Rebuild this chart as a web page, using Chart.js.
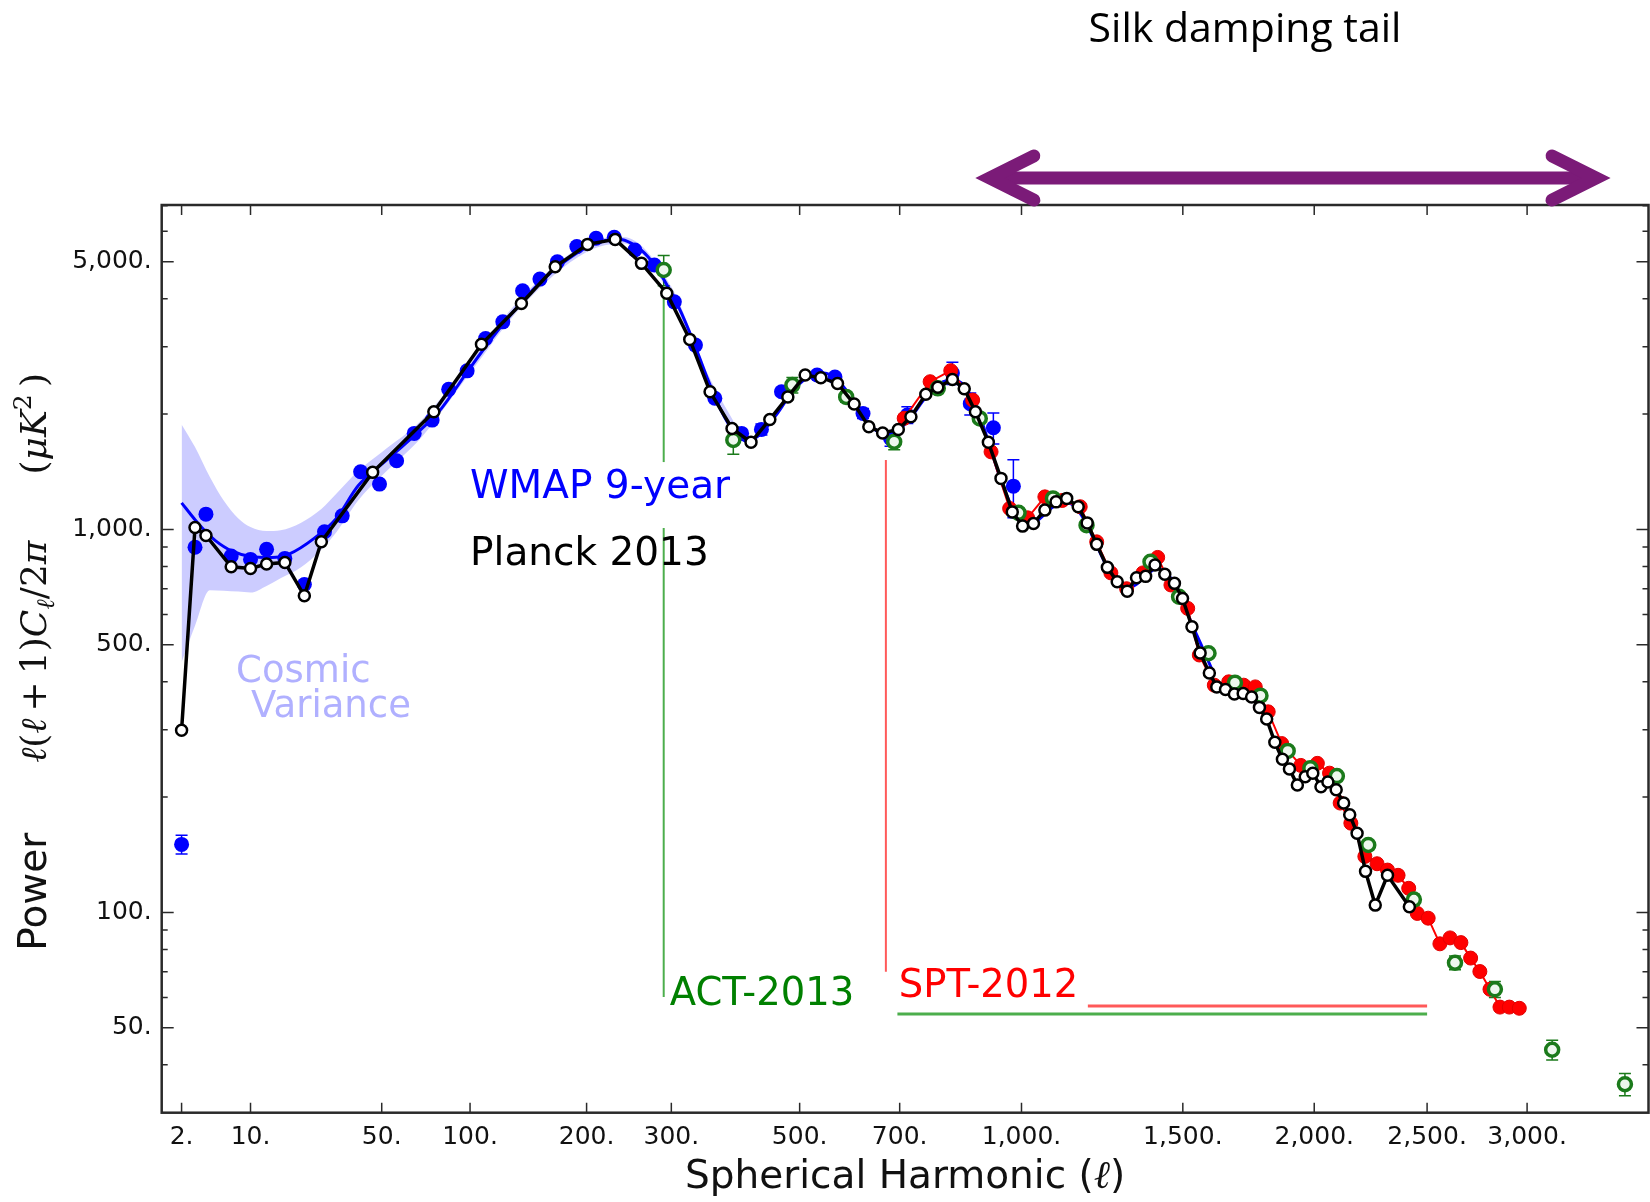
<!doctype html>
<html lang="en">
<head>
<meta charset="utf-8">
<title>CMB power spectrum</title>
<script src="https://cdn.jsdelivr.net/npm/chart.js@4.4.1/dist/chart.umd.min.js"></script>
<style>
  html, body { margin: 0; padding: 0; background: #fff; overflow: hidden; }
  #cmb { display: block; }
</style>
</head>
<body>
<canvas id="cmb" width="1650" height="1202"></canvas>
<script>
// axis ticks
const xTicks = [2, 10, 50, 100, 200, 300, 500, 700, 1000, 1500, 2000, 2500, 3000]
const yTicks = [50, 100, 500, 1000, 5000]
const yMinor = [40, 60, 70, 80, 90, 200, 300, 400, 600, 700, 800, 900, 2000, 3000, 4000, 6000, 7000]

// Planck 2013 (white circles, black line)
const planckL = [2, 3, 4, 7, 10, 13, 17, 22, 27, 46, 77, 108, 139, 169, 201, 231, 262, 294, 325, 354,
  387, 417, 448, 479, 510, 539, 571, 604, 634, 663, 697, 725, 759, 787, 822, 851, 879, 912, 945, 975,
  1003, 1033, 1065, 1097, 1128, 1162, 1189, 1218, 1251, 1282, 1314, 1344, 1374, 1405, 1438, 1471, 1499, 1532, 1561, 1594,
  1621, 1653, 1686, 1719, 1751, 1781, 1809, 1841, 1871, 1899, 1931, 1963, 1994, 2028, 2057, 2092, 2124, 2150, 2182, 2219,
  2262, 2317, 2417]
const planckP = [299, 1012, 964, 799, 791, 812, 820, 671, 928, 1409, 2028, 3042, 3889, 4847, 5548, 5717, 4950, 4136, 3134, 2287,
  1835, 1688, 1937, 2218, 2529, 2489, 2405, 2124, 1854, 1786, 1824, 1968, 2253, 2349, 2463, 2328, 2028, 1688, 1359, 1111,
  1020, 1036, 1123, 1180, 1205, 1146, 1040, 914, 796, 730, 690, 748, 754, 807, 764, 723, 660, 557, 476, 422,
  388, 382, 372, 373, 365, 343, 320, 278, 251, 237, 215, 226, 231, 213, 219, 209, 193, 180, 161, 128,
  104.5, 125, 103.5]

// WMAP 9-year binned points
const wmapL = [2, 3, 4, 7, 10, 13, 17, 22, 28, 34, 41, 49, 57, 66, 76, 86, 98, 111, 124, 140,
  155, 171, 190, 210, 230, 254, 278, 304, 333, 361, 402, 434, 468, 532, 566, 622, 680, 717, 822, 866,
  925, 978]
const wmapP = [150.5, 898, 1096, 852, 835, 887, 840, 718, 986, 1085, 1414, 1313, 1511, 1781, 1929, 2321, 2594, 3151, 3482, 4197,
  4503, 4995, 5474, 5755, 5788, 5365, 4900, 3927, 3028, 2200, 1781, 1824, 2287, 2529, 2500, 2008, 1728, 1990, 2560, 2130,
  1842, 1297]
const wmapErr = [8.5, 0, 0, 0, 0, 0, 0, 0, 0, 0, 0, 0, 0, 0, 0, 0, 0, 0, 0, 0,
  0, 0, 0, 0, 0, 0, 0, 0, 0, 0, 0, 60, 50, 50, 50, 60, 80, 100, 170, 140,
  170, 224]

// WMAP best fit model and cosmic variance band
const modelL = [2, 3, 4, 5, 7, 10, 14, 18, 25, 32, 40, 50, 60, 70, 80, 100, 120, 140, 160, 180,
  200, 220, 235, 250, 270, 290, 310, 330, 350, 370, 390, 410, 430, 460, 490, 520, 545, 570, 600, 630,
  660, 690, 720, 760, 800, 830, 860, 890, 920, 950, 980, 1010, 1040, 1080, 1120, 1150, 1180, 1210, 1250, 1290,
  1330, 1370, 1410, 1450, 1490, 1530, 1570, 1610]
const modelP = [1173, 1060, 985, 935, 880, 850, 845, 862, 950, 1070, 1300, 1480, 1650, 1830, 2030, 2640, 3300, 3950, 4550, 5050,
  5450, 5680, 5720, 5580, 5150, 4500, 3800, 3100, 2480, 2050, 1800, 1700, 1760, 2000, 2320, 2520, 2560, 2460, 2200, 1920,
  1790, 1800, 1930, 2220, 2430, 2450, 2300, 1980, 1600, 1300, 1120, 1040, 1050, 1130, 1180, 1150, 1060, 940, 800, 720,
  710, 750, 790, 760, 680, 570, 490, 420]
const bandL = [2, 3, 4.4, 6, 8, 10, 13, 16, 21, 27, 32, 40, 50, 70, 100, 140, 200, 240, 300, 350, 400]
const bandHi = [1880, 1640, 1370, 1190, 1070, 1015, 990, 995, 1040, 1130, 1240, 1420, 1590, 1930, 2740, 4060, 5580, 5800, 4300, 2560, 1780]
const bandLo = [450, 560, 694, 692, 688, 684, 712, 745, 795, 885, 985, 1190, 1380, 1740, 2560, 3840, 5300, 5580, 4050, 2400, 1700]

// ACT 2013
const actL = [290, 389, 487, 588, 688, 787, 890, 992, 1088, 1187, 1390, 1487, 1591, 1688, 1785, 1892, 1984, 2095, 2231, 2438,
  2634, 2833, 3134, 3543]
const actP = [4757, 1712, 2381, 2218, 1694, 2335, 1949, 1105, 1205, 1026, 823, 667, 475, 398, 368, 264, 238, 227, 150, 108,
  73.9, 63, 43.8, 35.6]
const actErr = [430, 140, 110, 70, 80, 60, 45, 30, 25, 20, 15, 12, 10, 8, 7, 6, 6, 5, 4, 3.5,
  3, 3, 2.6, 2.4]

// SPT 2012
const sptL = [710, 769, 818, 872, 919, 968, 1017, 1065, 1115, 1168, 1218, 1262, 1312, 1365, 1414, 1459, 1517, 1558, 1612, 1665,
  1721, 1765, 1815, 1868, 1945, 2013, 2064, 2109, 2155, 2216, 2270, 2317, 2365, 2414, 2454, 2505, 2561, 2610, 2663, 2711,
  2757, 2808, 2859, 2907, 2959]
const sptP = [1950, 2430, 2597, 2176, 1594, 1134, 1072, 1216, 1190, 1146, 928, 770, 700, 770, 845, 716, 622, 470, 392, 400,
  392, 388, 334, 276, 242, 245, 231, 193, 171, 140, 134, 129, 125, 115.6, 99.4, 96.6, 82.8, 85.8, 83.4, 76,
  70.1, 63, 56.6, 56.6, 56.2]

// experiment ranges: [l0, v0, l1, v1]
const actGuides = [[290, 4060, 290, 1499], [290, 1008, 290, 60.1], [695, 54.3, 2500, 54.3]]
const sptGuides = [[670, 1517, 670, 70], [1191, 57, 2500, 57]]
const silkRange = [880, 3457]

const pts = (ls, vs) => ls.map((l, i) => ({ x: l, y: vs[i] }))
const fmt = v => Number(v).toLocaleString('en-US') + '.'

// the l axis of the original is linear in l^0.4
const POW = 0.4
class PowerScale extends Chart.LinearScale {
  static id = 'power'
  static defaults = {}
  buildTicks() {
    return xTicks.map(v => ({ value: v }))
  }
  configure() {
    super.configure()
    this._u0 = Math.pow(this.min, POW)
    this._u1 = Math.pow(this.max, POW)
  }
  getPixelForValue(v) {
    return this.getPixelForDecimal((Math.pow(v, POW) - this._u0) / (this._u1 - this._u0))
  }
  getValueForPixel(px) {
    const d = this.getDecimalForPixel(px)
    return Math.pow(this._u0 + d * (this._u1 - this._u0), 1 / POW)
  }
}
Chart.register(PowerScale)

function drawParts(ctx, parts, x, y) {
  let cx = x
  parts.forEach(p => {
    ctx.font = p[1]
    ctx.fillText(p[0], cx, y + (p[2] || 0))
    cx += ctx.measureText(p[0]).width
  })
  return cx - x
}
function partsWidth(ctx, parts) {
  let w = 0
  parts.forEach(p => { ctx.font = p[1]; w += ctx.measureText(p[0]).width })
  return w
}

function errBars(ctx, x, y, ls, vs, es, color) {
  ctx.strokeStyle = color
  ctx.lineWidth = 1.5
  ls.forEach((l, i) => {
    if (!es[i]) return
    const px = x.getPixelForValue(l)
    const a = y.getPixelForValue(vs[i] - es[i]), b = y.getPixelForValue(vs[i] + es[i])
    ctx.beginPath()
    ctx.moveTo(px, a); ctx.lineTo(px, b)
    ctx.moveTo(px - 6, a); ctx.lineTo(px + 6, a)
    ctx.moveTo(px - 6, b); ctx.lineTo(px + 6, b)
    ctx.stroke()
  })
}

const SANS = 'DejaVu Sans'
const IT = 'italic 36px "DejaVu Serif"'
const UP = '36px "DejaVu Serif"'

const decor = {
  id: 'decor',
  beforeDatasetsDraw(chart) {
    const { ctx, scales: { x, y } } = chart
    ctx.save()
    const guide = (list, color, w) => {
      ctx.strokeStyle = color
      list.forEach(g => {
        ctx.lineWidth = g[1] === g[3] ? 3 : w
        ctx.beginPath()
        ctx.moveTo(x.getPixelForValue(g[0]), y.getPixelForValue(g[1]))
        ctx.lineTo(x.getPixelForValue(g[2]), y.getPixelForValue(g[3]))
        ctx.stroke()
      })
    }
    guide(actGuides, 'rgba(0,140,0,0.7)', 2)
    guide(sptGuides, 'rgba(255,0,0,0.65)', 2)
    errBars(ctx, x, y, wmapL, wmapP, wmapErr, '#0000ff')
    errBars(ctx, x, y, actL, actP, actErr, '#1b7a1b')
    ctx.restore()
  },
  afterDatasetsDraw(chart) {
    const { ctx, scales: { x, y } } = chart
    ctx.save()
    ctx.textBaseline = 'alphabetic'
    ctx.textAlign = 'left'
    const note = (t, l, v, color, size) => {
      ctx.font = size + 'px "' + SANS + '"'
      ctx.fillStyle = color
      ctx.fillText(t, x.getPixelForValue(l), y.getPixelForValue(v))
    }
    note('WMAP 9-year', 100, 1207, '#0000ff', 39)
    note('Planck 2013', 100, 807, '#000000', 39)
    note('Cosmic', 7.7, 400, '#b0b0ff', 37)
    note('Variance', 10.1, 324, '#b0b0ff', 37)
    note('ACT-2013', 298, 57.3, '#008000', 38.5)
    note('SPT-2012', 698, 60.2, '#ff0000', 38.5)
    ctx.restore()
  },
  afterDraw(chart) {
    const { ctx, chartArea: a, scales: { x, y } } = chart
    ctx.save()
    // frame and inward ticks
    ctx.strokeStyle = '#2a2a2a'
    ctx.lineWidth = 2.5
    ctx.strokeRect(a.left, a.top, a.right - a.left, a.bottom - a.top)
    ctx.lineWidth = 1.5
    ctx.beginPath()
    xTicks.forEach(v => {
      const px = x.getPixelForValue(v)
      ctx.moveTo(px, a.bottom); ctx.lineTo(px, a.bottom - 10)
      ctx.moveTo(px, a.top); ctx.lineTo(px, a.top + 10)
    })
    yTicks.forEach(v => {
      const py = y.getPixelForValue(v)
      ctx.moveTo(a.left, py); ctx.lineTo(a.left + 12, py)
      ctx.moveTo(a.right, py); ctx.lineTo(a.right - 12, py)
    })
    yMinor.forEach(v => {
      const py = y.getPixelForValue(v)
      if (py < a.top || py > a.bottom) return
      ctx.moveTo(a.left, py); ctx.lineTo(a.left + 6, py)
      ctx.moveTo(a.right, py); ctx.lineTo(a.right - 6, py)
    })
    ctx.stroke()

    // x axis title
    ctx.fillStyle = '#111'
    ctx.textBaseline = 'alphabetic'
    const xt = [['Spherical Harmonic (', '39px "' + SANS + '"'], ['\u2113', 'italic 39px "DejaVu Serif"'], [')', '39px "' + SANS + '"']]
    drawParts(ctx, xt, (a.left + a.right) / 2 - partsWidth(ctx, xt) / 2, 1188)

    // y axis title, rotated
    const power = [['Power', '39px "' + SANS + '"']]
    const math = [['\u2113', IT], ['(', UP], ['\u2113', IT], ['\u2009+\u20091', UP], [')', UP], ['C', IT],
      ['\u2113', 'italic 25px "DejaVu Serif"', 8], ['/2', UP], ['\u03c0', IT]]
    const unit = [['(', UP], ['\u03bcK', IT], ['2', '25px "DejaVu Serif"', -15], ['\u2009)', UP]]
    const g1 = 70, g2 = 66
    const total = partsWidth(ctx, power) + g1 + partsWidth(ctx, math) + g2 + partsWidth(ctx, unit)
    ctx.translate(46, (a.top + a.bottom) / 2)
    ctx.rotate(-Math.PI / 2)
    let cx = -total / 2 - 3
    cx += drawParts(ctx, power, cx, 0) + g1
    cx += drawParts(ctx, math, cx, 0) + g2
    drawParts(ctx, unit, cx, 0)
    ctx.setTransform(1, 0, 0, 1, 0, 0)

    // Silk damping tail arrow
    const x0 = x.getPixelForValue(silkRange[0]), x1 = x.getPixelForValue(silkRange[1]), ay = 178
    ctx.strokeStyle = '#7b1b78'
    ctx.lineWidth = 13
    ctx.lineCap = 'butt'
    ctx.beginPath()
    ctx.moveTo(x0 + 16, ay); ctx.lineTo(x1 - 16, ay)
    ctx.stroke()
    ctx.lineCap = 'round'
    ctx.lineJoin = 'miter'
    ctx.beginPath()
    ctx.moveTo(x0 + 58, ay - 22); ctx.lineTo(x0 + 14, ay); ctx.lineTo(x0 + 58, ay + 22)
    ctx.moveTo(x1 - 58, ay - 22); ctx.lineTo(x1 - 14, ay); ctx.lineTo(x1 - 58, ay + 22)
    ctx.stroke()
    ctx.font = '41px "Open Sans"'
    ctx.fillStyle = '#000'
    ctx.textAlign = 'center'
    ctx.fillText('Silk damping tail', 1245, 42)
    ctx.restore()
  }
}

Chart.defaults.font.family = SANS

new Chart(document.getElementById('cmb'), {
  type: 'line',
  data: {
    datasets: [
      {
        label: 'Planck 2013', data: pts(planckL, planckP), order: 0,
        borderColor: '#000', borderWidth: 3.5, pointRadius: 5.5, pointBorderWidth: 2.5,
        pointBackgroundColor: '#fff', pointBorderColor: '#000'
      },
      {
        label: 'ACT-2013', data: pts(actL, actP), order: 1, showLine: false,
        pointRadius: 6.5, pointBorderWidth: 3.5, pointBackgroundColor: '#eef7ee', pointBorderColor: '#1b7a1b'
      },
      {
        label: 'SPT-2012', data: pts(sptL, sptP), order: 2,
        borderColor: '#ff0000', borderWidth: 2, pointRadius: 7, pointBorderWidth: 1,
        pointBackgroundColor: '#ff0000', pointBorderColor: '#e00000'
      },
      {
        label: 'WMAP 9-year', data: pts(wmapL, wmapP), order: 3, showLine: false,
        pointRadius: 7.5, pointBorderWidth: 0, pointBackgroundColor: '#0000ff'
      },
      {
        label: 'WMAP model', data: pts(modelL, modelP), order: 4,
        borderColor: '#0000ff', borderWidth: 3, pointRadius: 0, cubicInterpolationMode: 'monotone'
      },
      {
        label: 'band hi', data: pts(bandL, bandHi), order: 5,
        borderWidth: 0, pointRadius: 0, fill: false, cubicInterpolationMode: 'monotone'
      },
      {
        label: 'Cosmic Variance', data: pts(bandL, bandLo), order: 6,
        borderWidth: 0, pointRadius: 0, fill: '-1', backgroundColor: 'rgba(0,0,255,0.2)',
        cubicInterpolationMode: 'monotone'
      }
    ]
  },
  options: {
    responsive: false,
    animation: false,
    devicePixelRatio: 1,
    layout: { autoPadding: false, padding: { top: 205, right: 1.5, left: 0, bottom: 0 } },
    plugins: { legend: { display: false }, tooltip: { enabled: false } },
    scales: {
      x: {
        type: 'power', min: 0.94, max: 3682,
        grid: { display: false, drawTicks: false }, border: { display: false },
        ticks: {
          autoSkip: false, maxRotation: 0, minRotation: 0, padding: 10,
          color: '#111', font: { size: 25 }, callback: v => fmt(v)
        },
        afterFit: s => { s.height = 89.3; s.paddingLeft = 0; s.paddingRight = 0 }
      },
      y: {
        type: 'logarithmic', min: 30, max: 7030,
        grid: { display: false, drawTicks: false }, border: { display: false },
        afterBuildTicks: s => { s.ticks = yTicks.map(v => ({ value: v })) },
        ticks: { padding: 10, color: '#111', font: { size: 25 }, callback: v => fmt(v) },
        afterFit: s => { s.width = 161.7; s.paddingTop = 0; s.paddingBottom = 0 }
      }
    }
  },
  plugins: [decor]
})
</script>
</body>
</html>
